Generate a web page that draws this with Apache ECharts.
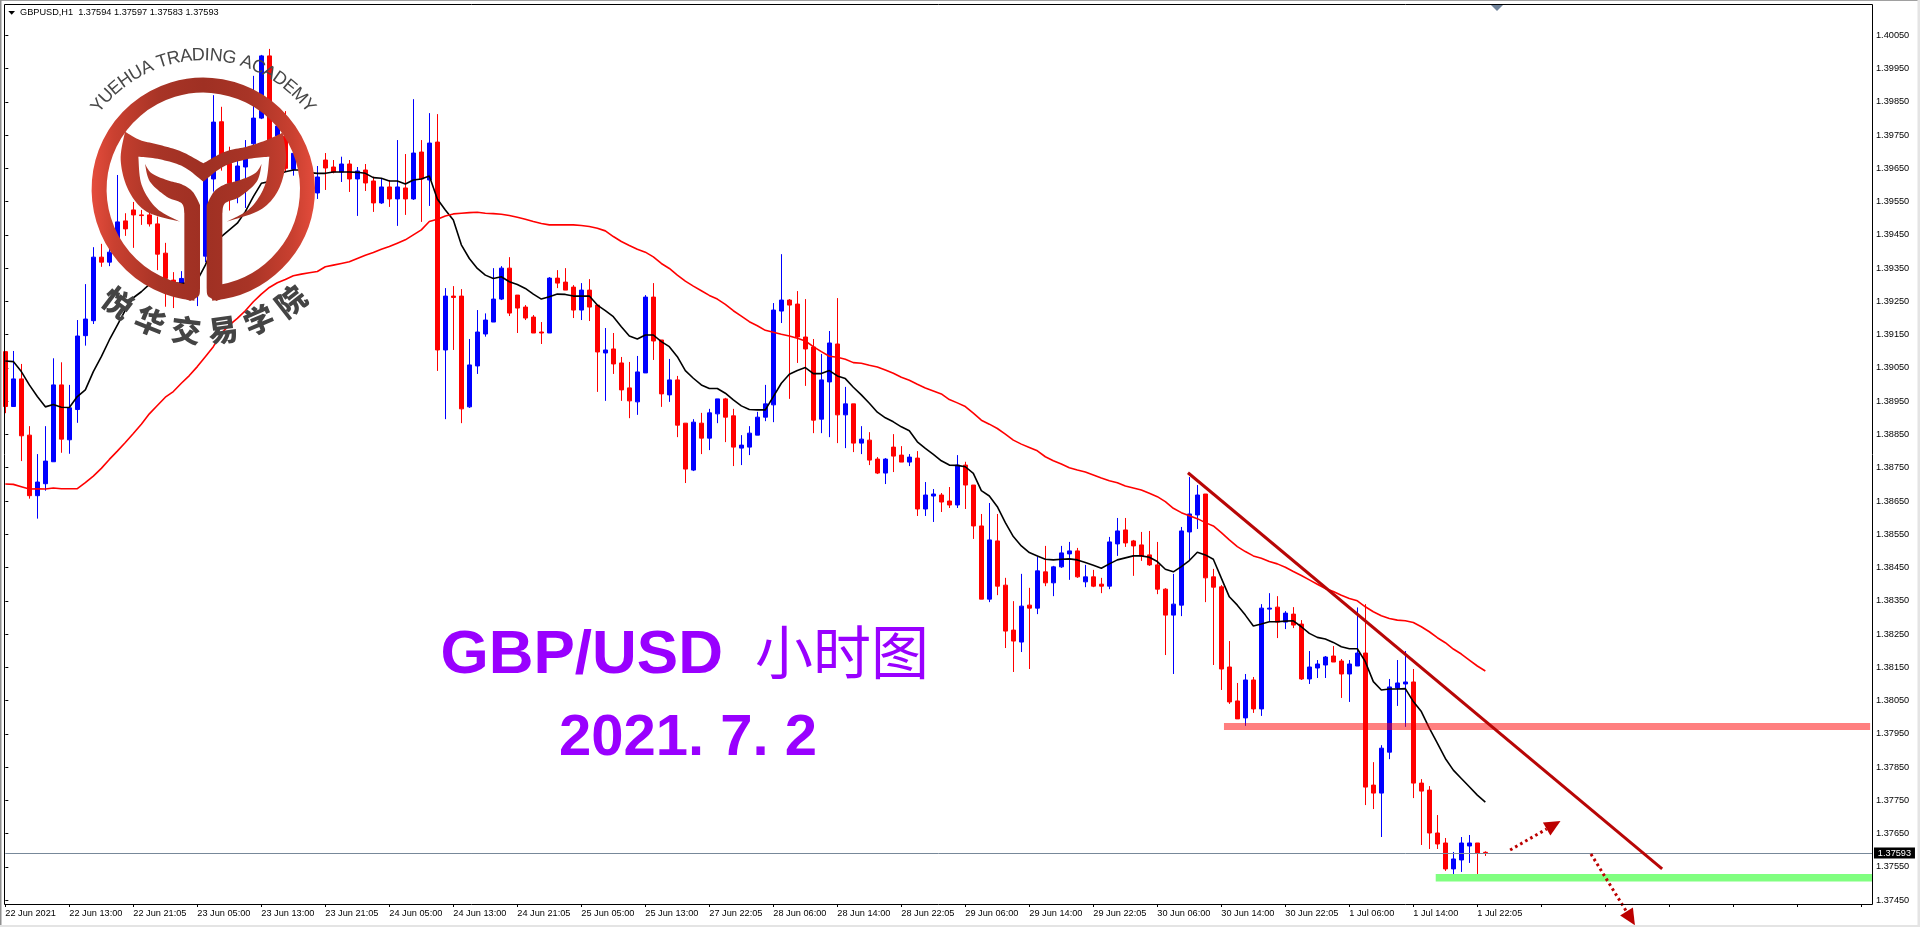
<!DOCTYPE html>
<html><head><meta charset="utf-8"><title>GBP/USD H1</title>
<style>html,body{margin:0;padding:0;background:#fff}#c{width:1920px;height:927px}</style>
<script src="https://cdn.jsdelivr.net/npm/echarts@6/dist/echarts.min.js"></script>
</head><body><div id="c"></div>
<script>
// prices are given in 1/100000 units
const opens=[139099,138934,139017,138848,138666,138702,138768,138999,138834,138925,
139147,139192,139383,139368,139435,139492,139525,139510,139510,139483,
139395,139314,139304,139374,139294,139386,139618,139790,139665,139610,
139654,139724,139801,139988,139747,139747,139647,139675,139575,139576,
139675,139654,139639,139663,139618,139645,139612,139546,139594,139558,
139591,139558,139699,139615,139729,139104,139266,139266,138933,139056,
139152,139188,139257,139350,139269,139233,139203,139158,139155,139320,
139308,139293,139224,139284,139239,139095,139107,139065,138990,138948,
139035,139263,139134,138969,139014,138884,138743,138884,138839,138912,
138957,138906,138809,138812,138848,138902,138939,139221,139254,139242,
139143,139113,138896,139008,139122,138909,138942,138824,138833,138776,
138734,138812,138788,138767,138779,138626,138665,138668,138650,138638,
138758,138698,138575,138355,138530,138397,138262,138226,138337,138328,
138437,138404,138452,138491,138500,138407,138422,138400,138394,138521,
138563,138530,138518,138488,138458,138385,138307,138337,138557,138608,
138671,138422,138392,138151,138049,137998,138112,138025,138325,138331,
138286,138310,138280,138115,138148,138157,138184,138169,138130,138154,
138193,137796,137772,137895,138088,138100,138106,137802,137781,137652,
137622,137544,137571,137613,137622,137594];
const highs=[139099,139101,139062,138875,138791,138875,139079,139067,138999,139194,
139302,139413,139423,139435,139630,139515,139549,139525,139525,139505,
139426,139338,139341,139394,139404,139645,139870,139835,139715,139675,
139735,139928,139991,140009,139815,139822,139715,139705,139635,139657,
139696,139675,139685,139675,139654,139663,139625,139620,139615,139735,
139693,139858,139735,139816,139813,139290,139296,139287,139137,139224,
139214,139350,139356,139383,139269,139239,139209,139188,139323,139344,
139350,139299,139305,139317,139239,139170,139155,139083,139068,139086,
139269,139305,139134,139077,139026,138884,138896,138915,138927,138957,
138960,138927,138848,138875,138918,138999,139245,139392,139257,139281,
139257,139137,139092,139161,139260,138993,138942,138875,138857,138782,
138779,138851,138815,138791,138800,138707,138686,138674,138692,138788,
138768,138698,138611,138644,138611,138419,138349,138431,138389,138482,
138515,138455,138515,138527,138509,138458,138443,138419,138542,138599,
138599,138533,138557,138560,138527,138388,138431,138572,138722,138698,
138671,138446,138397,138229,138103,138130,138121,138340,138373,138364,
138319,138331,138292,138199,138172,138184,138214,138175,138172,138330,
138340,137865,137916,138115,138172,138199,138145,137814,137793,137706,
137637,137595,137640,137646,137622,137597];
const lows=[138914,138934,138770,138657,138597,138681,138768,138795,138792,138885,
139117,139182,139354,139356,139398,139447,139411,139480,139475,139344,
139234,139230,139299,139294,139236,139368,139580,139643,139523,139545,
139531,139685,139798,139725,139715,139642,139628,139615,139565,139558,
139585,139635,139609,139579,139507,139582,139519,139543,139534,139477,
139510,139555,139489,139537,139041,138896,139104,138884,138930,139032,
139144,139188,139254,139206,139155,139194,139155,139122,139155,139290,
139284,139200,139194,139191,138978,138951,139032,138951,138899,138909,
139035,139074,138933,138948,138842,138704,138740,138791,138803,138884,
138827,138755,138758,138788,138848,138890,138887,139185,138957,139065,
138996,138854,138854,138842,138824,138809,138797,138791,138758,138731,
138701,138737,138767,138755,138605,138605,138587,138617,138629,138629,
138626,138536,138355,138346,138367,138208,138136,138196,138145,138310,
138394,138364,138449,138413,138419,138391,138391,138373,138385,138485,
138512,138425,138470,138455,138370,138187,138130,138304,138473,138566,
138346,138157,138082,138040,137995,137974,138013,138004,138288,138238,
138265,138268,138112,138100,138118,138118,138166,138058,138046,138154,
137736,137724,137640,137874,138034,137971,137757,137616,137604,137604,
137538,137520,137535,137562,137508,137583];
const closes=[138934,139017,138846,138666,138707,138770,138999,138836,138930,139146,
139197,139383,139368,139398,139489,139468,139510,139508,139483,139392,
139319,139299,139319,139304,139384,139621,139789,139685,139605,139657,
139678,139801,139988,139735,139777,139650,139695,139635,139625,139624,
139651,139639,139663,139618,139642,139606,139546,139594,139558,139594,
139558,139696,139618,139726,139104,139266,139262,138927,139059,139158,
139194,139257,139350,139215,139230,139200,139155,139155,139320,139305,
139284,139224,139284,139233,139098,139104,139062,138984,138951,139038,
139263,139131,138972,139014,138878,138746,138887,138839,138915,138957,
138902,138812,138818,138854,138902,138942,139224,139254,139239,139143,
139107,138893,139014,139125,138909,138942,138824,138836,138773,138734,
138776,138785,138767,138782,138626,138668,138671,138647,138638,138758,
138698,138575,138355,138533,138394,138259,138229,138334,138328,138440,
138404,138452,138494,138500,138422,138422,138394,138394,138527,138560,
138524,138515,138485,138458,138385,138307,138340,138560,138611,138668,
138419,138391,138145,138046,137995,138112,138025,138328,138328,138286,
138313,138277,138115,138151,138160,138181,138166,138130,138160,138193,
137790,137772,137907,138091,138103,138106,137802,137778,137652,137619,
137544,137574,137622,137622,137592,137593];
const fastMA=[139071,139069,139039,138999,138964,138933,138940,138932,138931,138964,
138984,139039,139084,139134,139179,139224,139261,139279,139301,139306,
139308,139306,139304,139306,139314,139359,139415,139445,139465,139485,
139520,139565,139605,139610,139630,139640,139645,139645,139637,139635,
139635,139639,139639,139639,139638,139635,139622,139620,139612,139612,
139603,139615,139618,139627,139558,139525,139495,139420,139379,139349,
139329,139319,139324,139309,139301,139289,139272,139257,139264,139272,
139271,139266,139266,139266,139239,139222,139204,139174,139146,139137,
139149,139149,139129,139114,139084,139042,139019,138999,138988,138988,
138974,138954,138936,138925,138924,138924,138964,139004,139031,139042,
139051,139033,139033,139042,139026,139018,138992,138969,138944,138917,
138900,138888,138873,138861,138828,138808,138790,138771,138758,138757,
138753,138733,138681,138665,138633,138585,138543,138515,138495,138485,
138475,138473,138475,138476,138473,138465,138457,138448,138461,138473,
138479,138485,138485,138481,138468,138445,138437,138453,138471,138496,
138488,138475,138418,138362,138337,138307,138274,138280,138287,138287,
138289,138290,138272,138252,138240,138235,138225,138212,138206,138206,
138167,138107,138082,138085,138085,138086,138047,138017,137967,137922,
137876,137841,137816,137791,137766,137745];
const slowMA=[138701,138700,138693,138686,138687,138686,138689,138687,138687,138687,
138705,138725,138748,138775,138800,138826,138853,138881,138912,138937,
138962,138979,139004,139027,139054,139084,139114,139154,139179,139199,
139222,139249,139272,139292,139306,139316,139327,139332,139336,139340,
139354,139359,139364,139369,139379,139389,139397,139407,139415,139425,
139435,139450,139465,139490,139497,139507,139513,139515,139517,139518,
139515,139514,139512,139508,139503,139497,139490,139484,139480,139480,
139480,139480,139478,139475,139470,139462,139445,139430,139418,139407,
139398,139384,139364,139349,139329,139311,139296,139282,139268,139257,
139241,139222,139206,139189,139177,139163,139157,139151,139146,139139,
139131,139114,139099,139085,139082,139076,139066,139064,139058,139053,
139044,139034,139022,139013,139001,138990,138981,138972,138955,138945,
138934,138914,138893,138881,138868,138851,138833,138821,138811,138801,
138783,138771,138761,138750,138743,138737,138728,138719,138711,138705,
138695,138689,138683,138673,138663,138648,138628,138615,138606,138597,
138585,138575,138555,138533,138513,138498,138485,138478,138468,138461,
138451,138438,138426,138413,138400,138387,138378,138367,138357,138350,
138332,138317,138305,138297,138292,138290,138285,138272,138257,138239,
138224,138205,138190,138172,138154,138139];
const timeLabels=['22 Jun 2021','22 Jun 13:00','22 Jun 21:05','23 Jun 05:00','23 Jun 13:00','23 Jun 21:05','24 Jun 05:00','24 Jun 13:00','24 Jun 21:05','25 Jun 05:00','25 Jun 13:00','27 Jun 22:05','28 Jun 06:00','28 Jun 14:00','28 Jun 22:05','29 Jun 06:00','29 Jun 14:00','29 Jun 22:05','30 Jun 06:00','30 Jun 14:00','30 Jun 22:05','1 Jul 06:00','1 Jul 14:00','1 Jul 22:05'];
const priceTicks=[137450,137550,137650,137750,137850,137950,138050,138150,138250,138350,138450,138550,138650,138750,138850,138950,139050,139150,139250,139350,139450,139550,139650,139750,139850,139950,140050];
const lastPrice=137593;
// drawn objects: bar index & price
const trendLine=[[147.83,138735,207.1,137544]];
const zones=[[152.33,233.1,137983,137962,'rgba(255,0,0,0.5)'],[178.8,233.33,137529,137506,'#80ff80']];
const arrows=[[188.1,137601,194.4,137688],[198.2,137589,203.7,137375]];
const headerText='GBPUSD,H1  1.37594 1.37597 1.37583 1.37593';
const titleLatin='GBP/USD', titleCjk='小时图', titleDate='2021. 7. 2';
const logoTop='YUEHUA TRADING ACADEMY', logoBottom='悦华交易学院';

const P=v=>v/100000;
const slots=234;
const cats=Array.from({length:slots},(_,i)=>String(i));
const candle=opens.map((o,i)=>[P(o),P(closes[i]),P(lows[i]),P(highs[i])]);
const axisFont='Liberation Sans';
const PURPLE='#9900ff', ARROW='#bc0000';

// --- logo geometry helpers ---
function spline(pts){ // Catmull-Rom through pts
  const out=[];
  for(let i=0;i<pts.length-1;i++){
    const p0=pts[Math.max(i-1,0)],p1=pts[i],p2=pts[i+1],p3=pts[Math.min(i+2,pts.length-1)];
    for(let t=0;t<1;t+=0.1){
      const t2=t*t,t3=t2*t;
      out.push([0.5*(2*p1[0]+(p2[0]-p0[0])*t+(2*p0[0]-5*p1[0]+4*p2[0]-p3[0])*t2+(3*p1[0]-p0[0]-3*p2[0]+p3[0])*t3),
                0.5*(2*p1[1]+(p2[1]-p0[1])*t+(2*p0[1]-5*p1[1]+4*p2[1]-p3[1])*t2+(3*p1[1]-p0[1]-3*p2[1]+p3[1])*t3)]);
    }
  }
  out.push(pts[pts.length-1]);
  return out;
}
const outline=pieces=>pieces.flatMap(spline).map(p=>[p[0]/3,p[1]/3]);
const mirror=pts=>pts.map(p=>[1220/3-p[0],p[1]]);
const logoFill={type:'linear',global:true,x:92,y:0,x2:315,y2:0,colorStops:[
 {offset:0,color:'#e44c3c'},{offset:0.1,color:'#c94030'},{offset:0.3,color:'#a83426'},{offset:0.5,color:'#9f3023'},{offset:0.7,color:'#a83426'},{offset:0.9,color:'#c94030'},{offset:1,color:'#e44c3c'}]};
const cupShape=outline([
 [[375,395],[420,420],[480,435],[545,455],[610,490]],
 [[610,490],[675,455],[740,440],[800,420],[848,398]],
 [[848,398],[858,480],[835,570],[780,630],[680,665]],
 [[680,665],[750,625],[795,555],[808,470]],
 [[808,470],[740,478],[670,500],[610,545]],
 [[610,545],[550,500],[480,478],[415,470]],
 [[415,470],[425,555],[470,625],[540,665]],
 [[540,665],[440,635],[385,570],[362,480],[375,395]]]);
const leafStem=outline([
 [[435,492],[455,520],[500,540],[545,553],[578,575],[600,615]],
 [[600,615],[600,865]],
 [[600,865],[596,888],[570,903]],
 [[570,903],[553,895]],
 [[553,895],[553,640]],
 [[553,640],[545,610],[500,590],[450,545],[435,492]]]);

const cx=203.3, cy=189.3;
const graphics=[
 {type:'rect',z:50,shape:{x:4.5,y:4.5,width:1868,height:900},style:{fill:null,stroke:'#000',lineWidth:1}},
 {type:'rect',z:50,shape:{x:0,y:0,width:1920,height:1},style:{fill:'#a0a0a0'}},
 {type:'rect',z:50,shape:{x:0,y:0,width:1.5,height:927},style:{fill:'#909090'}},
 {type:'rect',z:50,shape:{x:1917.5,y:0,width:2.5,height:927},style:{fill:'#e4e4e4'}},
 {type:'rect',z:50,shape:{x:0,y:925,width:1920,height:2},style:{fill:'#e4e4e4'}},
 {type:'polygon',z:50,shape:{points:[[8.3,11],[15,11],[11.7,14.7]]},style:{fill:'#000'}},
 {type:'polygon',z:50,shape:{points:[[1491,5],[1503,5],[1497,11]]},style:{fill:'#6f8299'}},
 {type:'text',z:50,x:20,y:12.5,style:{text:headerText,font:'9.2px "'+axisFont+'"',fill:'#000',textVerticalAlign:'middle'}},
 {type:'arc',z:60,shape:{cx,cy,r:104.2,startAngle:Math.PI/2+0.08,endAngle:Math.PI/2-0.08+2*Math.PI,clockwise:true},style:{fill:null,stroke:logoFill,lineWidth:15}},
 {type:'polygon',z:60,shape:{points:cupShape},style:{fill:logoFill}},
 {type:'polygon',z:60,shape:{points:leafStem},style:{fill:logoFill}},
 {type:'polygon',z:60,shape:{points:mirror(leafStem)},style:{fill:logoFill}},
 {type:'text',z:70,x:440.5,y:656,style:{text:titleLatin,font:'bold 62px "Liberation Sans"',fill:PURPLE,textVerticalAlign:'middle'}},
 {type:'text',z:70,x:755,y:652,style:{text:titleCjk,font:'400 58px "Noto Sans CJK SC"',fill:PURPLE,textVerticalAlign:'middle'}},
 {type:'text',z:70,x:559,y:739,style:{text:titleDate,font:'bold 58px "Liberation Sans"',fill:PURPLE,textVerticalAlign:'middle'}}
];
// curved logo lettering
(function(){
  const ctx=document.createElement('canvas').getContext('2d');
  const font='18px "Liberation Sans"'; ctx.font=font;
  const w=[...logoTop].map(c=>ctx.measureText(c).width), tot=w.reduce((a,b)=>a+b,0);
  const span=108*Math.PI/180, R=134; let acc=0;
  [...logoTop].forEach((c,i)=>{
    const a=-span/2+span*(acc+w[i]/2)/tot; acc+=w[i];
    graphics.push({type:'text',z:65,x:cx+R*Math.sin(a),y:cy-R*Math.cos(a),rotation:-a,
      style:{text:c,font,fill:'#474747',textAlign:'center',textVerticalAlign:'middle'}});
  });
  [...logoBottom].forEach((c,i)=>{
    const a=(-37+15*i)*Math.PI/180, r=142;
    graphics.push({type:'text',z:65,x:cx+r*Math.sin(a),y:cy+r*Math.cos(a),rotation:a,
      style:{text:c,font:'900 30px "Noto Sans CJK SC"',fill:'#444',textAlign:'center',textVerticalAlign:'middle'}});
  });
})();

const chart=echarts.init(document.getElementById('c'),null,{renderer:'canvas',width:1920,height:927});
const gridBase={left:5.33,top:4.5,width:1864,height:899.5};
chart.setOption({
 animation:false,backgroundColor:'#fff',
 grid:gridBase,
 graphic:{elements:graphics},
 xAxis:[
  {type:'category',data:cats,boundaryGap:false,axisLine:{show:false},splitLine:{show:false},
   axisTick:{show:true,interval:7,length:3,lineStyle:{color:'#000'}},
   axisLabel:{interval:7,align:'left',margin:5,fontFamily:axisFont,fontSize:9.2,color:'#000',
     formatter:(v,i)=>timeLabels[i/8]||''}},
  {type:'value',min:0,max:233,show:false,splitLine:{show:false}}
 ],
 yAxis:{type:'value',position:'right',offset:2.67,min:1.374386,max:1.401425,scale:true,
  splitLine:{show:false},axisLine:{show:false},
  axisTick:{show:true,length:3,customValues:priceTicks.map(P),lineStyle:{color:'#000'}},
  axisLabel:{customValues:priceTicks.map(P),margin:4,fontFamily:axisFont,fontSize:9.2,color:'#000',formatter:v=>v.toFixed(5)}},
 series:[
  {type:'candlestick',name:'GBPUSD',data:candle,barWidth:4,z:2,silent:true,clip:true,
   itemStyle:{color:'#0000ff',borderColor:'#0000ff',color0:'#ff0000',borderColor0:'#ff0000',borderWidth:1}},
  {type:'line',name:'MA fast',data:fastMA.map(P),symbol:'none',z:3,silent:true,lineStyle:{color:'#000',width:1.6}},
  {type:'line',name:'MA slow',data:slowMA.map(P),symbol:'none',z:3,silent:true,lineStyle:{color:'#ff0000',width:1.6}},
  {type:'custom',name:'zones',xAxisIndex:1,yAxisIndex:0,z:4,silent:true,clip:false,
   data:zones.map(z=>[z[0],z[1],P(z[2]),P(z[3])]),encode:{x:[0,1],y:[2,3]},
   renderItem:(p,api)=>{
     const a=api.coord([api.value(0),api.value(2)]),b=api.coord([api.value(1),api.value(3)]);
     return {type:'rect',shape:{x:a[0],y:a[1],width:b[0]-a[0],height:b[1]-a[1]},style:{fill:zones[p.dataIndex][4]}};
   }},
  {type:'custom',name:'last price',xAxisIndex:1,yAxisIndex:0,z:5,silent:true,clip:false,
   data:[[0,P(lastPrice)]],encode:{x:0,y:1},
   renderItem:(p,api)=>{
     const a=api.coord([0,api.value(1)]),r=api.coord([233.33,api.value(1)]);
     const y=Math.round(a[1])+0.5;
     return {type:'group',children:[
      {type:'line',shape:{x1:a[0],y1:y,x2:r[0],y2:y},style:{stroke:'#778899',lineWidth:1}},
      {type:'rect',shape:{x:r[0]+2,y:y-6,width:41,height:11},style:{fill:'#000'}},
      {type:'text',x:r[0]+22.5,y:y,style:{text:api.value(1).toFixed(5),font:'9.2px "'+axisFont+'"',fill:'#fff',textAlign:'center',textVerticalAlign:'middle'}}
     ]};
   }},
  {type:'custom',name:'trend',xAxisIndex:1,yAxisIndex:0,z:6,silent:true,clip:false,
   data:trendLine.map(t=>[t[0],t[2],P(t[1]),P(t[3])]),encode:{x:[0,1],y:[2,3]},
   renderItem:(p,api)=>{
     const a=api.coord([api.value(0),api.value(2)]),b=api.coord([api.value(1),api.value(3)]);
     return {type:'line',shape:{x1:a[0],y1:a[1],x2:b[0],y2:b[1]},style:{stroke:'#b80606',lineWidth:3}};
   }},
  {type:'custom',name:'arrows',xAxisIndex:1,yAxisIndex:0,z:6,silent:true,clip:false,
   data:arrows.map(t=>[t[0],t[2],P(t[1]),P(t[3])]),encode:{x:[0,1],y:[2,3]},
   renderItem:(p,api)=>{
     const a=api.coord([api.value(0),api.value(2)]),b=api.coord([api.value(1),api.value(3)]);
     const dx=b[0]-a[0],dy=b[1]-a[1],L=Math.hypot(dx,dy),ux=dx/L,uy=dy/L,len=16,hw=7.5;
     const bx=b[0]-ux*len,by=b[1]-uy*len;
     return {type:'group',children:[
      {type:'line',shape:{x1:a[0],y1:a[1],x2:bx,y2:by},style:{stroke:ARROW,lineWidth:3,lineDash:[2.6,3.2]}},
      {type:'polygon',shape:{points:[[b[0],b[1]],[bx-uy*hw,by+ux*hw],[bx+uy*hw,by-ux*hw]]},style:{fill:ARROW}}
     ]};
   }}
 ]
});
</script></body></html>
